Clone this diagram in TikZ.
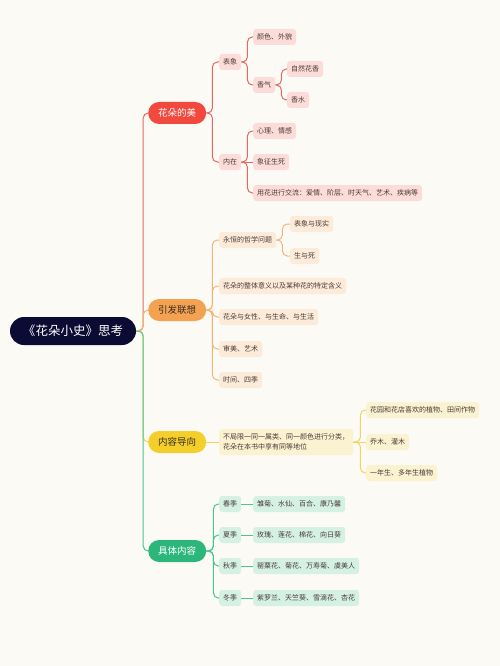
\documentclass[tikz,border=0pt]{standalone}
\usepackage{fontspec}
\newfontfamily\cjk{Noto Sans CJK SC}
\usetikzlibrary{calc}
\definecolor{bgcream}{HTML}{FBFAF4}
\definecolor{rootnavy}{HTML}{0B0B33}
\definecolor{redmain}{HTML}{F2493E}
\definecolor{redline}{HTML}{E36A62}
\definecolor{redleaf}{HTML}{FCDCD8}
\definecolor{orgmain}{HTML}{F2A251}
\definecolor{orgline}{HTML}{F3B679}
\definecolor{orgleaf}{HTML}{FDEBD9}
\definecolor{ylwmain}{HTML}{F4CF2C}
\definecolor{ylwline}{HTML}{F3D359}
\definecolor{ylwleaf}{HTML}{FBF2D2}
\definecolor{grnmain}{HTML}{2DB67C}
\definecolor{grnline}{HTML}{4BC494}
\definecolor{grnleaf}{HTML}{D4F1E3}
\definecolor{leaftext}{HTML}{4A3B36}
\definecolor{maintext}{HTML}{3B2E22}

\begin{document}
\begin{tikzpicture}[
  x=1pt, y=-1pt,
  font=\cjk,
  rootbox/.style={fill=rootnavy, text=white, rounded corners=14pt,
                  minimum width=126pt, minimum height=28pt, inner sep=0pt,
                  font=\cjk\fontsize{12.5}{14}\selectfont},
  mainbox/.style={anchor=west, rounded corners=11pt, minimum width=58pt,
                  minimum height=22pt, inner sep=0pt,
                  font=\cjk\fontsize{9.5}{11}\selectfont},
  leafbox/.style={anchor=west, rounded corners=3pt, minimum height=16pt,
                  inner xsep=4pt, inner ysep=0pt, text=leaftext,
                  font=\cjk\fontsize{7}{9}\selectfont},
  link/.style={line width=1pt, rounded corners=5pt}
]
\path[use as bounding box, fill=bgcream] (0,0) rectangle (500,666);

%% ---------- root and main topics ----------
\node[rootbox] (root) at (73,331) {《花朵小史》思考};
\node[mainbox, fill=redmain, text=white]   (beauty) at (148,113) {花朵的美};
\node[mainbox, fill=orgmain, text=maintext] (assoc) at (148,310) {引发联想};
\node[mainbox, fill=ylwmain, text=maintext] (guide) at (148,442) {内容导向};
\node[mainbox, fill=grnmain, text=white]   (detail) at (148,551) {具体内容};

%% ---------- beauty ----------
\node[leafbox, fill=redleaf] (look)    at (219,62)  {表象};
\node[leafbox, fill=redleaf] (inner)   at (219,162) {内在};
\node[leafbox, fill=redleaf] (color)   at (253,37)  {颜色、外貌};
\node[leafbox, fill=redleaf] (scent)   at (253,85)  {香气};
\node[leafbox, fill=redleaf] (natural) at (287,69)  {自然花香};
\node[leafbox, fill=redleaf] (perfume) at (287,100) {香水};
\node[leafbox, fill=redleaf] (mind)    at (253,131) {心理、情感};
\node[leafbox, fill=redleaf] (symbol)  at (253,162) {象征生死};
\node[leafbox, fill=redleaf] (talk)    at (253,193) {用花进行交流：爱情、阶层、时天气、艺术、疾病等};

%% ---------- associations ----------
\node[leafbox, fill=orgleaf] (philo)   at (219,240) {永恒的哲学问题};
\node[leafbox, fill=orgleaf] (philoA)  at (290,224) {表象与现实};
\node[leafbox, fill=orgleaf] (philoB)  at (290,256) {生与死};
\node[leafbox, fill=orgleaf] (meaning) at (219,286) {花朵的整体意义以及某种花的特定含义};
\node[leafbox, fill=orgleaf] (women)   at (219,317) {花朵与女性、与生命、与生活};
\node[leafbox, fill=orgleaf] (aesth)   at (219,349) {审美、艺术};
\node[leafbox, fill=orgleaf] (season)  at (219,380) {时间、四季};

%% ---------- guide ----------
\node[leafbox, fill=ylwleaf, align=left, minimum height=26pt,
      font=\cjk\fontsize{7}{9.5}\selectfont] (rule) at (219,442)
  {不局限一同一属类、同一颜色进行分类，\\花朵在本书中享有同等地位};
\node[leafbox, fill=ylwleaf] (garden) at (366,410) {花园和花店喜欢的植物、田间作物};
\node[leafbox, fill=ylwleaf] (trees)  at (366,442) {乔木、灌木};
\node[leafbox, fill=ylwleaf] (annual) at (366,473) {一年生、多年生植物};

%% ---------- details ----------
\node[leafbox, fill=grnleaf] (spring)  at (219,504) {春季};
\node[leafbox, fill=grnleaf] (summer)  at (219,535) {夏季};
\node[leafbox, fill=grnleaf] (autumn)  at (219,566) {秋季};
\node[leafbox, fill=grnleaf] (winter)  at (219,598) {冬季};
\node[leafbox, fill=grnleaf] (springF) at (253,504) {雏菊、水仙、百合、康乃馨};
\node[leafbox, fill=grnleaf] (summerF) at (253,535) {玫瑰、莲花、棉花、向日葵};
\node[leafbox, fill=grnleaf] (autumnF) at (253,566) {罂粟花、菊花、万寿菊、虞美人};
\node[leafbox, fill=grnleaf] (winterF) at (253,598) {紫罗兰、天竺葵、雪滴花、杏花};

%% ---------- connectors ----------
\foreach \c/\col in {beauty/redline, assoc/orgline, guide/ylwline, detail/grnline}
  \draw[link, \col] (root.east) -- ++(7,0) |- (\c.west);
\foreach \p/\c in {beauty/look, beauty/inner, look/color, look/scent,
                   scent/natural, scent/perfume, inner/mind, inner/talk}
  \draw[link, redline] (\p.east) -- ++(6,0) |- (\c.west);
\draw[link, redline] (inner) -- (symbol);
\foreach \p/\c in {assoc/philo, assoc/meaning, assoc/women, assoc/aesth,
                   assoc/season, philo/philoA, philo/philoB}
  \draw[link, orgline] (\p.east) -- ++(6,0) |- (\c.west);
\draw[link, ylwline] (guide) -- (rule);
\draw[link, ylwline] (rule) -- (trees);
\foreach \c in {garden, annual}
  \draw[link, ylwline] (rule.east) -- ++(7,0) |- (\c.west);
\foreach \c in {spring, summer, autumn, winter}
  \draw[link, grnline] (detail.east) -- ++(7,0) |- (\c.west);
\foreach \p in {spring, summer, autumn, winter}
  \draw[link, grnline] (\p) -- (\p F);
\end{tikzpicture}
\end{document}
